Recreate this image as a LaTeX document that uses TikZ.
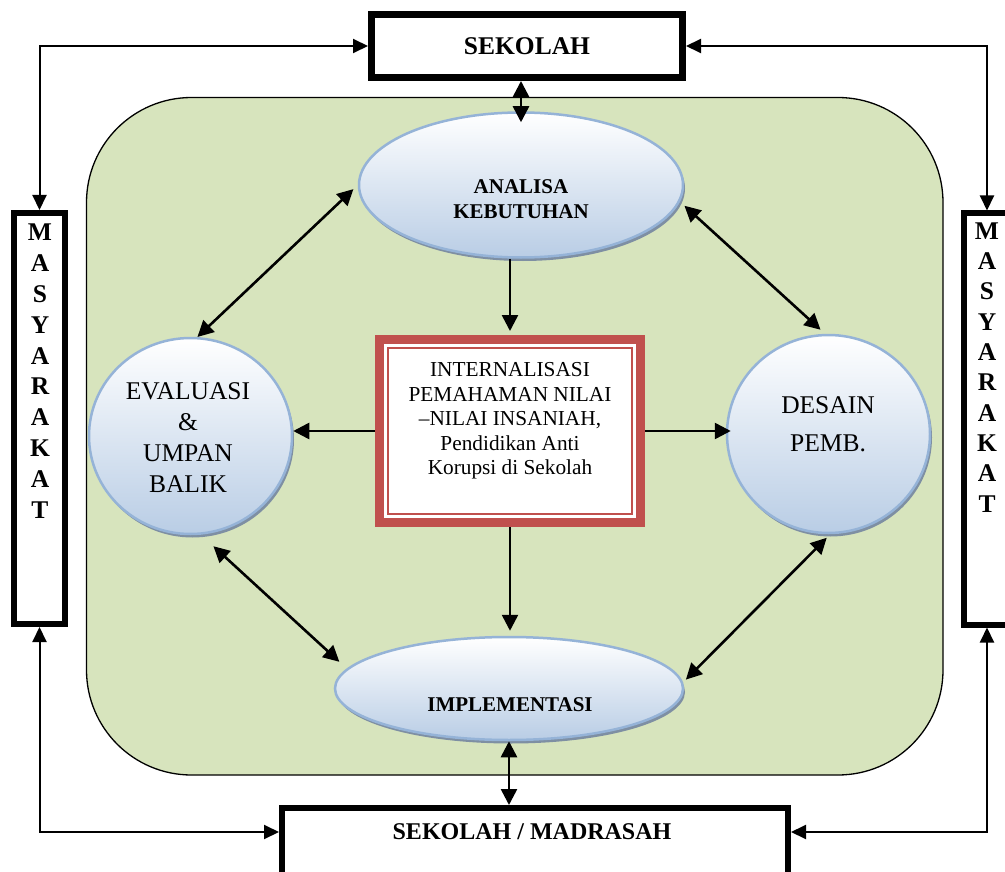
\documentclass[tikz,border=0pt]{standalone}
\usepackage{fontspec}
\setmainfont{Liberation Serif}
\usetikzlibrary{arrows.meta,shapes.geometric,shadows,calc}
\definecolor{bgreen}{HTML}{D7E4BD}
\definecolor{ered}{HTML}{C0504D}
\definecolor{eline}{HTML}{95B3D7}
\definecolor{efill}{HTML}{B9CDE5}
\definecolor{eshadow}{HTML}{7E8FA3}
\begin{document}
\begin{tikzpicture}[x=1pt,y=-1pt,
  thickbox/.style={draw, line width=#1, fill=white, inner sep=0pt},
  bubble/.style={ellipse, draw=eline, line width=2.5pt, top color=white, bottom color=efill, inner sep=0pt,
    drop shadow={shadow xshift=2pt, shadow yshift=-3.5pt, fill=eshadow, opacity=1}},
  letter/.style={font=\fontsize{25.5}{30}\selectfont\bfseries, inner sep=0pt},
  inarrow/.style={line width=2.6pt, -{Triangle[length=16pt,width=16pt]}},
  inboth/.style={line width=2.6pt, {Triangle[length=16pt,width=16pt]}-{Triangle[length=16pt,width=16pt]}},
  outboth/.style={line width=2pt, {Triangle[length=15pt,width=14pt]}-{Triangle[length=15pt,width=14pt]}},
]
\useasboundingbox (0,0) rectangle (1005,872);

% background
\node[draw, line width=1.3pt, fill=bgreen, rounded corners=105pt, inner sep=0pt,
  minimum width=856.5pt, minimum height=677.5pt] (bg) at (514.75,436.25) {};

% outer boxes
\node[thickbox=7pt, minimum width=311pt, minimum height=63pt,
  font=\fontsize{25.5}{30}\selectfont\bfseries] (sek) at (527,46) {SEKOLAH};
\node[thickbox=6pt, minimum width=506pt, minimum height=100pt, anchor=north west] (smad) at (279,805) {};
\node[font=\fontsize{24}{28}\selectfont\bfseries, inner sep=0pt] (smadt) at (532,832) {SEKOLAH / MADRASAH};

\node[thickbox=6pt, minimum width=51pt, minimum height=411pt] (ml) at (39.5,418.5) {};
\foreach \l [count=\i from 0] in {M,A,S,Y,A,R,A,K,A,T}
  \node[letter] (ml\i) at (40,232+30.9*\i) {\l};
\node[thickbox=6pt, minimum width=80pt, minimum height=411pt, anchor=north west] (mr) at (961,210.5) {};
\foreach \l [count=\i from 0] in {M,A,S,Y,A,R,A,K,A,T}
  \node[letter] (mr\i) at (987,231+30.3*\i) {\l};

% bubbles
\node[bubble, minimum width=324pt, minimum height=145pt] (ana) at (521,185) {};
\node[font=\fontsize{21}{24.5}\selectfont\bfseries, align=center, inner sep=0pt] (anat) at (521,199) {ANALISA\\KEBUTUHAN};

\node[bubble, minimum width=203pt, minimum height=196pt] (ev) at (190.5,436) {};
\node[font=\fontsize{25.5}{31}\selectfont, align=center, inner sep=0pt] (evt) at (188,438) {EVALUASI\\\&\\UMPAN\\BALIK};

\node[bubble, minimum width=203pt, minimum height=198pt] (ds) at (828.5,434) {};
\node[font=\fontsize{25.5}{38}\selectfont, align=center, inner sep=0pt] (dst) at (828,424) {DESAIN\\PEMB.};

\node[bubble, minimum width=348pt, minimum height=103pt] (im) at (509,688.5) {};
\node[font=\fontsize{21}{24}\selectfont\bfseries, inner sep=0pt] (imt) at (510,704.5) {IMPLEMENTASI};

% centre box
\node[draw=ered, line width=9pt, fill=white, minimum width=261pt, minimum height=183pt, inner sep=0pt] (cb) at (510,431) {};
\draw[ered, line width=2pt] ($(cb.north west)+(13,13)$) rectangle ($(cb.south east)+(-13,-13)$);
\node[font=\fontsize{21.3}{24.5}\selectfont, align=center, inner sep=0pt] (cbt) at (510,421)
  {INTERNALISASI\\PEMAHAMAN NILAI\\–NILAI INSANIAH,\\Pendidikan Anti\\Korupsi di Sekolah};

% outer connectors
\draw[outboth] (ml.north) |- (sek.west);
\draw[outboth] (mr.north -| mr0) |- (sek.east);
\draw[outboth] (ml.south) |- (smad.west |- smadt);
\draw[outboth] (mr.south -| mr0) |- (smad.east |- smadt);

% inner connectors
\draw[inboth, shorten >=-11pt] (ana.north |- sek.south) -- (ana.north);
\draw[inboth, shorten <=6pt] (ana.west) -- (ev.86);
\draw[inboth, shorten <=6pt, shorten >=6pt] (ana.-6) -- (ds.92);
\draw[inboth, shorten <=17pt, shorten >=10pt] (ev.-84) -- (im.173);
\draw[inboth, shorten <=5pt, shorten >=4pt] (ds.-89) -- (im.2);
\draw[inboth] (im.south) -- (im.south |- smad.north);

\draw[inarrow, shorten >=4pt] (cb.north |- ana.south) -- (cb.north);
\draw[inarrow] (cb.west) -- (ev.east |- cb.west);
\draw[inarrow, shorten >=-5pt] (cb.east) -- (ds.west |- cb.east);
\draw[inarrow, shorten >=5pt] (cb.south) -- (cb.south |- im.north);
\end{tikzpicture}
\end{document}
